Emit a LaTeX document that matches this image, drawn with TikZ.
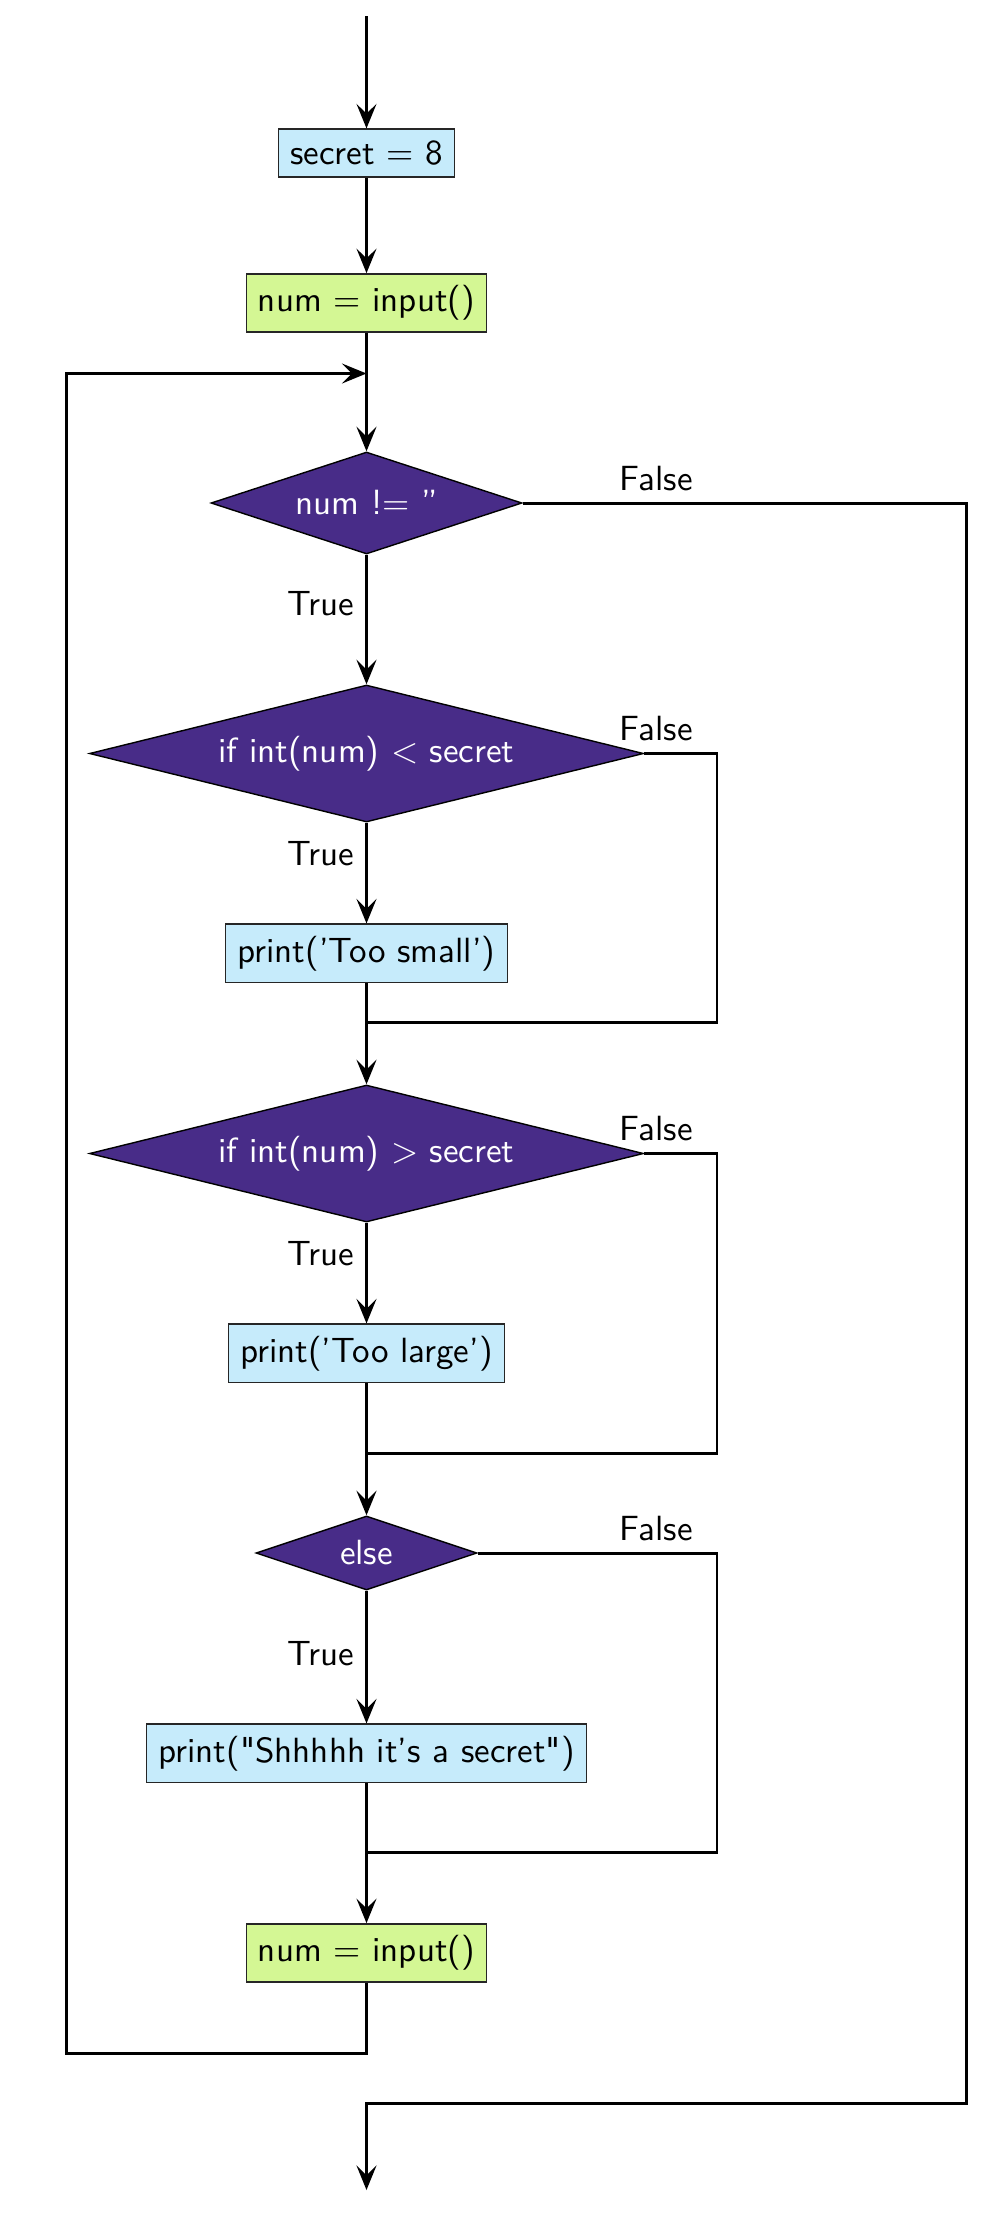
\documentclass[tikz,border=0pt]{standalone}
\usetikzlibrary{shapes.geometric,arrows.meta}
\definecolor{boxblue}{RGB}{198,235,251}
\definecolor{boxgreen}{RGB}{212,247,148}
\definecolor{decpurple}{RGB}{72,44,136}
\font\lmssplain="[lmsans10-regular]" at 10pt
\newcommand{\sq}{{\lmssplain\char"22}}
\begin{document}
\begin{tikzpicture}[x=0.2857pt,y=-0.2857pt,
  font=\sffamily,
  procbox/.style={rectangle, draw=black!85, line width=0.4pt, fill=boxblue},
  iobox/.style={rectangle, draw=black!85, line width=0.4pt, fill=boxgreen},
  decision/.style={diamond, draw=black, line width=0.4pt, fill=decpurple, text=white, inner sep=0pt, aspect=3},
  flow/.style={line width=0.85pt, -{Stealth[length=7pt,width=5.7pt,inset=2.8pt]}},
  link/.style={line width=0.85pt},
  lblfalse/.style={anchor=south},
  lbltrue/.style={anchor=east}
]
\useasboundingbox (0,0) rectangle (1003,2218);

% nodes
\coordinate (start) at (366.5,16);
\node[procbox] (secret) at (366.5,153) {secret = 8};
\node[iobox] (in1) at (366.5,303) {num = input()};
\coordinate (entry) at (366.5,373.5);
\node[decision, minimum width=88.85pt, minimum height=29.14pt] (d1) at (366.5,503) {num !$=$ ”};
\node[decision, minimum width=158.3pt, minimum height=39.14pt, aspect=4] (d2) at (366.5,753.5) {if int(num) $<$ secret};
\node[procbox] (small) at (366.5,953.3) {print(’Too small’)};
\coordinate (m1) at (366.5,1022.5);
\coordinate (m1r) at (717,1022.5);
\node[decision, minimum width=158.3pt, minimum height=39.14pt, aspect=4] (d3) at (366.5,1153.5) {if int(num) $>$ secret};
\node[procbox] (large) at (366.5,1353.3) {print(’Too large’)};
\coordinate (m2) at (366.5,1453);
\coordinate (m2r) at (717,1453);
\node[decision, minimum width=63.14pt, minimum height=21.14pt] (d4) at (366.5,1553) {else};
\node[procbox] (shh) at (366.5,1753.3) {print(\sq Shhhhh it’s a secret\sq)};
\coordinate (m3) at (366.5,1852.7);
\coordinate (m3r) at (717,1852.7);
\node[iobox] (in2) at (366.5,1953) {num = input()};
\coordinate (lbr) at (366.5,2053);
\coordinate (lbl) at (66.5,2053);
\coordinate (ltl) at (66.5,373.5);
\coordinate (exr) at (966.5,503);
\coordinate (exbr) at (966.5,2103);
\coordinate (exbl) at (366.5,2103);
\coordinate (stop) at (366.5,2190);

% labels
\node[lblfalse] (f1) at (656,503) {False};
\node[lblfalse] (f2) at (656,753.5) {False};
\node[lblfalse] (f3) at (656,1153.5) {False};
\node[lblfalse] (f4) at (656,1553) {False};
\node[lbltrue] (t1) at (366.5,604) {True};
\node[lbltrue] (t2) at (366.5,854) {True};
\node[lbltrue] (t3) at (366.5,1254) {True};
\node[lbltrue] (t4) at (366.5,1654) {True};

% connectors
\draw[flow] (start) -- (secret);
\draw[flow] (secret) -- (in1);
\draw[flow] (in1) -- (d1);
\draw[flow] (d1) -- (d2);
\draw[flow] (d2) -- (small);
\draw[flow] (small) -- (d3);
\draw[link] (d2.east) -| (m1r) -- (m1);
\draw[flow] (d3) -- (large);
\draw[flow] (large) -- (d4);
\draw[link] (d3.east) -| (m2r) -- (m2);
\draw[flow] (d4) -- (shh);
\draw[flow] (shh) -- (in2);
\draw[link] (d4.east) -| (m3r) -- (m3);
\draw[flow] (in2.south) -- (lbr) -- (lbl) -- (ltl) -- (entry);
\draw[flow] (d1.east) -- (exr) -- (exbr) -- (exbl) -- (stop);
\end{tikzpicture}
\end{document}
